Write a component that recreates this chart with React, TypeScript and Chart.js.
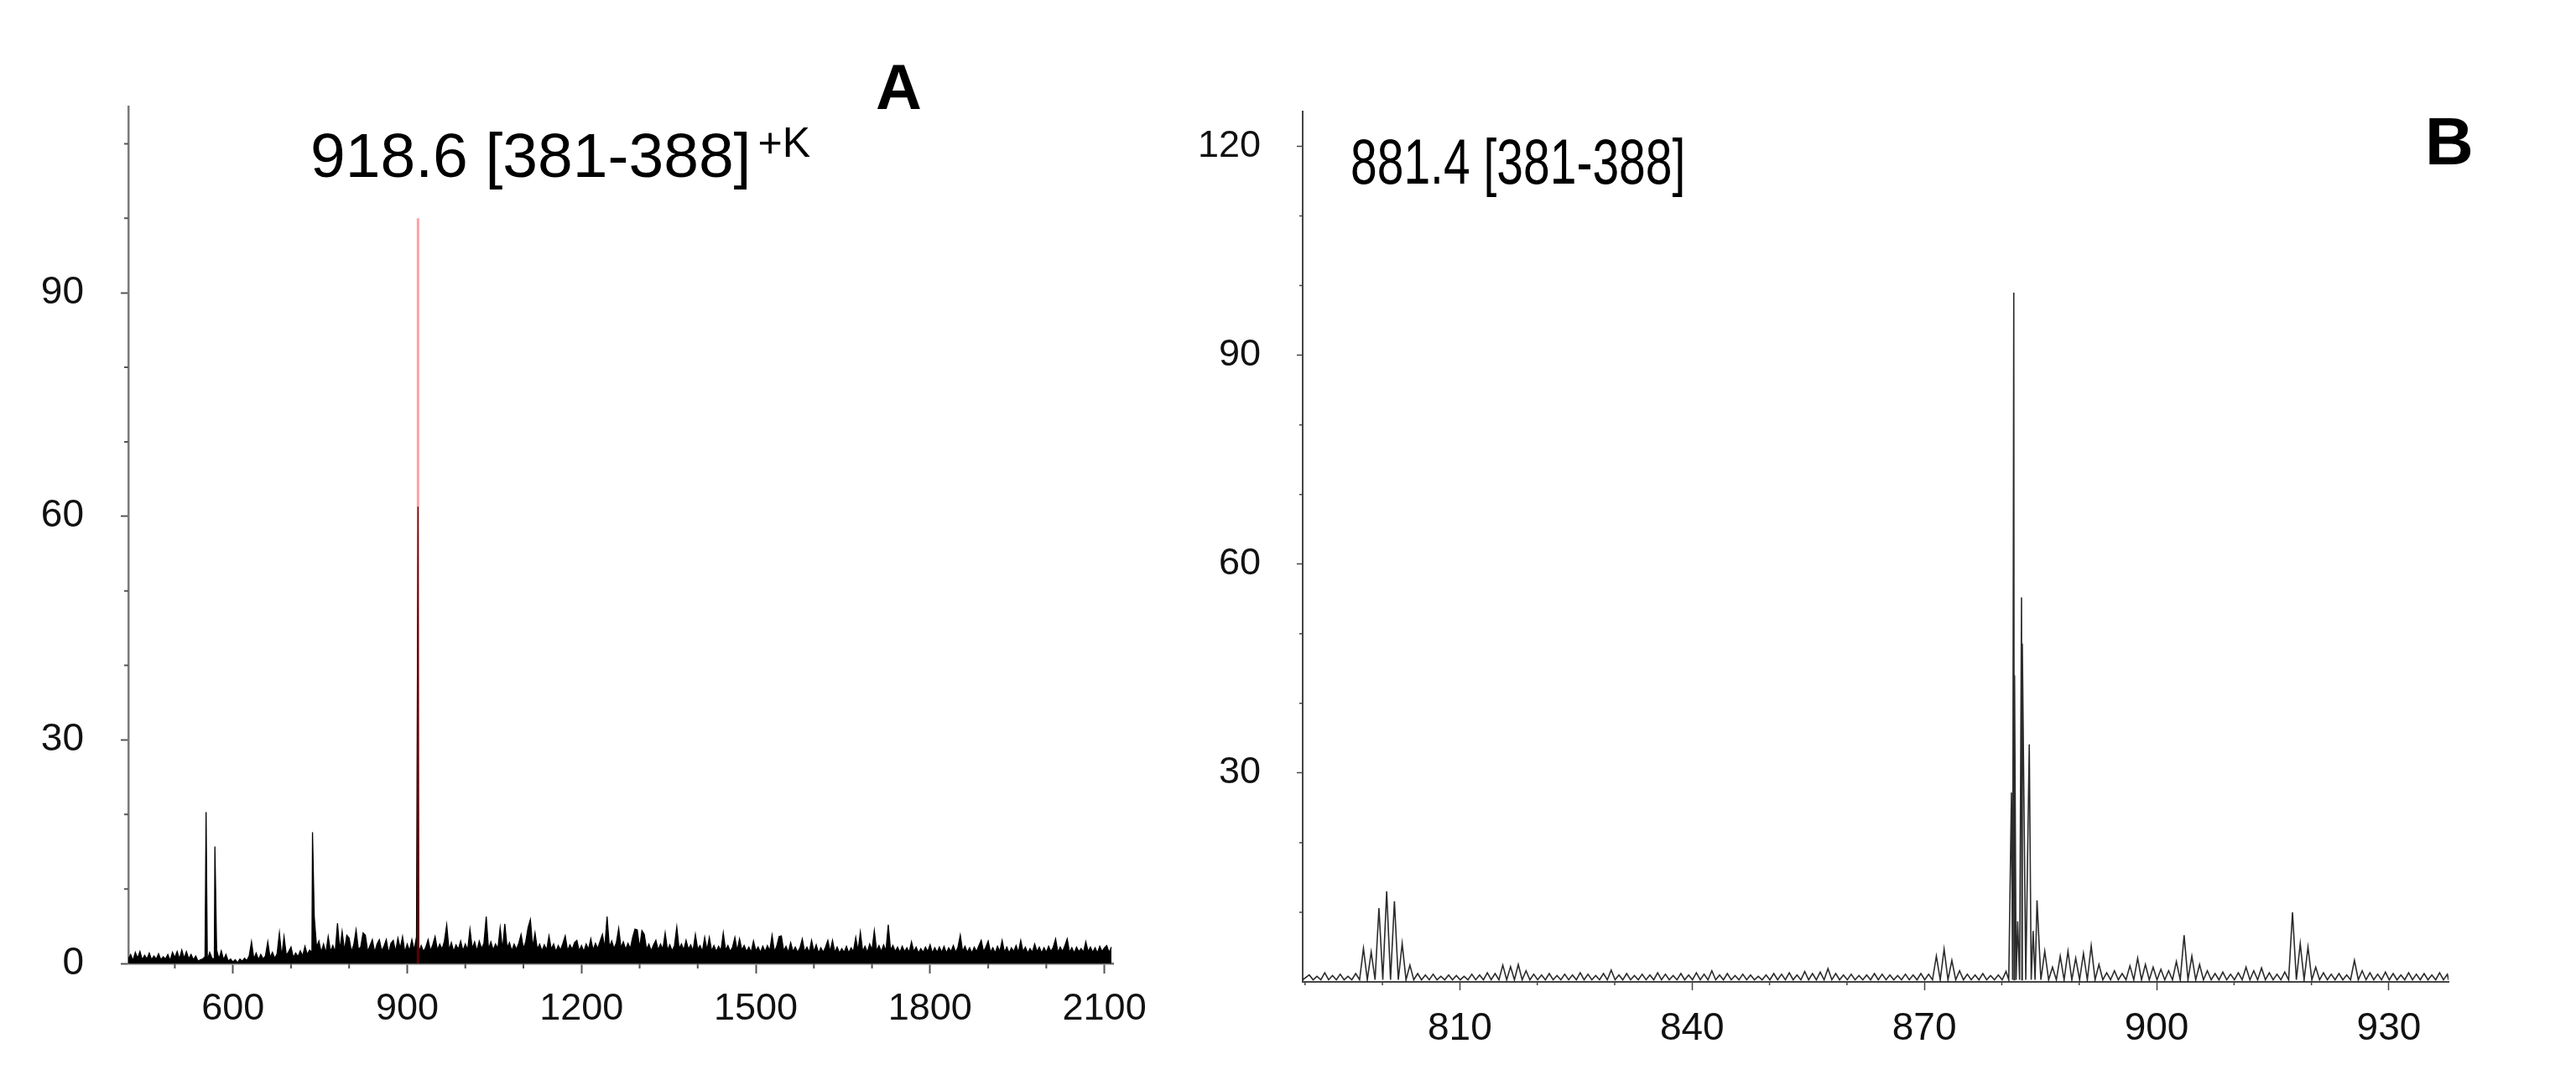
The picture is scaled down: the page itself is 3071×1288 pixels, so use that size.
import React, { useEffect, useRef } from "react";
import { Chart, registerables } from "chart.js";

Chart.register(...registerables);

const FONT = "'Liberation Sans', Arial, Helvetica, sans-serif";

// ---------------- Panel A : full-range spectrum ----------------
const A_TITLE = "918.6 [381-388]";
const A_TITLE_SUP = "+K";
const A_LETTER = "A";
const A_X_TICKS = [600, 900, 1200, 1500, 1800, 2100];
const A_X_MINOR = [500, 700, 800, 1000, 1100, 1300, 1400, 1600, 1700, 1900, 2000];
const A_Y_TICKS = [0, 30, 60, 90];
const A_Y_MINOR = [10, 20, 40, 50, 70, 80, 100, 110];
const A_X_MIN = 420;
const A_X_MAX = 2115;
const A_Y_MAX = 115;

// sampled profile trace: m/z grid start and spacing (Da)
const A_GRID_START = 420;
const A_GRID_STEP = 4;
const A_NOISE = [
  // 420 - 516
  0.6, 1.2, 0.4, 1.5, 0.7, 1.6, 0.5, 1.1, 0.6, 1.4, 0.5, 1.0, 0.6, 1.3, 0.5, 0.9, 0.6, 1.2, 0.4, 1.5, 0.8, 1.6, 0.6, 1.8, 0.7,
  // 520 - 616
  1.6, 0.6, 1.2, 0.5, 1.0, 0.3, 0.5, 0.6, 0.9, 0.4, 1.5, 0.7, 0.6, 1.8, 0.6, 1.7, 0.5, 1.2, 0.3, 0.6, 0.2, 0.5, 0.1, 0.6, 0.3,
  // 620 - 716
  0.7, 0.4, 1.0, 2.9, 0.6, 1.4, 0.5, 1.2, 0.6, 1.0, 2.9, 0.8, 1.5, 0.7, 1.3, 4.1, 0.9, 3.6, 1.1, 1.6, 2.2, 0.8, 1.4, 0.9, 1.7,
  // 720 - 816
  1.0, 2.3, 1.2, 1.8, 1.5, 6.3, 2.2, 3.0, 1.5, 2.6, 1.4, 3.6, 1.6, 2.4, 1.5, 5.4, 1.8, 4.3, 1.7, 3.8, 3.4, 1.6, 2.5, 4.5, 1.9,
  // 820 - 916
  2.2, 4.1, 3.8, 1.6, 2.4, 3.2, 1.5, 2.6, 3.2, 1.7, 2.3, 3.2, 1.4, 2.7, 3.1, 1.6, 3.4, 2.0, 3.6, 1.5, 2.6, 1.7, 3.2, 1.8, 3.6,
  // 920 - 1016
  1.5, 2.4, 1.6, 2.2, 3.2, 1.7, 2.5, 3.6, 1.8, 2.6, 1.9, 3.0, 5.2, 1.8, 2.8, 1.6, 2.5, 1.9, 3.0, 1.7, 2.6, 1.8, 4.6, 2.0, 2.9,
  // 1020 - 1116
  1.7, 3.0, 2.0, 2.7, 6.3, 1.9, 2.9, 1.8, 2.6, 2.0, 4.8, 1.8, 5.3, 2.1, 2.8, 1.7, 2.6, 1.9, 2.7, 3.9, 2.0, 2.9, 4.8, 5.9, 2.2,
  // 1120 - 1216
  4.1, 1.9, 2.6, 1.7, 2.5, 1.8, 3.7, 1.9, 2.6, 1.6, 2.4, 1.8, 2.7, 3.7, 1.7, 2.5, 1.9, 2.8, 3.1, 1.7, 2.4, 1.6, 2.6, 1.9, 3.3,
  // 1220 - 1316
  1.8, 2.7, 2.0, 3.0, 3.9, 2.1, 6.3, 2.2, 3.0, 2.0, 2.8, 4.7, 2.1, 2.9, 1.9, 2.7, 2.0, 3.5, 4.6, 4.5, 2.1, 4.4, 3.9, 1.9, 2.6,
  // 1320 - 1416
  1.7, 2.5, 3.1, 1.8, 2.6, 1.9, 4.1, 1.8, 2.5, 1.7, 2.4, 4.9, 2.0, 2.6, 1.8, 3.1, 1.9, 2.5, 1.7, 3.9, 1.9, 2.4, 1.6, 3.5, 1.8,
  // 1420 - 1516
  3.5, 1.7, 2.4, 1.6, 2.3, 1.7, 4.1, 1.8, 2.4, 1.6, 2.2, 3.5, 1.7, 3.3, 1.8, 2.4, 1.6, 2.2, 1.5, 3.0, 1.7, 2.2, 1.5, 2.3, 1.6,
  // 1520 - 1616
  2.4, 1.7, 3.8, 1.6, 2.3, 3.6, 3.7, 1.7, 2.3, 1.5, 2.8, 1.6, 2.2, 1.5, 2.1, 3.3, 1.6, 2.2, 1.5, 3.1, 1.6, 2.5, 1.4, 2.1, 1.5,
  // 1620 - 1716
  2.2, 3.1, 1.6, 3.1, 1.5, 2.2, 1.4, 2.0, 1.5, 2.3, 1.4, 2.1, 1.6, 3.5, 1.7, 4.2, 1.6, 2.3, 1.5, 2.6, 1.8, 4.4, 1.7, 2.4, 1.6,
  // 1720 - 1816
  2.5, 1.7, 5.2, 1.8, 2.4, 1.6, 2.2, 1.5, 2.3, 1.6, 2.1, 1.5, 2.9, 1.6, 2.2, 1.4, 2.0, 1.5, 2.2, 1.6, 2.5, 1.4, 2.1, 1.5, 2.2,
  // 1820 - 1916
  1.5, 2.3, 1.4, 2.1, 1.6, 2.4, 1.5, 2.2, 3.8, 1.6, 2.3, 1.5, 2.1, 1.4, 2.2, 1.6, 2.4, 3.1, 1.6, 2.2, 3.0, 1.5, 2.1, 1.4, 2.3,
  // 1920 - 2016
  1.6, 3.1, 1.5, 2.2, 1.4, 2.1, 1.6, 2.4, 1.5, 3.1, 1.6, 2.2, 1.4, 2.0, 1.5, 2.6, 1.6, 2.2, 1.4, 2.1, 1.5, 2.3, 1.6, 2.2, 3.3,
  // 2020 - 2112
  1.5, 2.2, 1.6, 2.4, 3.3, 1.5, 2.1, 1.4, 2.2, 1.6, 2.0, 1.5, 2.9, 1.6, 2.2, 1.5, 2.1, 1.4, 2.3, 1.6, 2.1, 2.4, 1.5, 2.2,
];
const A_PEAK_MZ = [553.8, 569.0, 737.0, 918.6];
const A_PEAK_INT = [20.3, 15.7, 17.6, 61.3];
const A_MARK_MZ = [918.6];
const A_MARK_INT = [100];

// ---------------- Panel B : zoomed spectrum ----------------
const B_TITLE = "881.4 [381-388]";
const B_LETTER = "B";
const B_X_TICKS = [810, 840, 870, 900, 930];
const B_X_MINOR = [790, 800, 820, 830, 850, 860, 880, 890, 910, 920];
const B_Y_TICKS = [30, 60, 90, 120];
const B_Y_MINOR = [10, 20, 40, 50, 70, 80, 100, 110];
const B_X_MIN = 789.7;
const B_X_MAX = 937.7;
const B_Y_MAX = 125;

// one centroid per nominal mass (790 ... 937), at nominal + mass defect
const B_FIRST_NOMINAL = 790;
const B_MASS_DEFECT = 0.55;
const B_BASELINE = 0.3;
const B_INT = [
  1.0, 0.8, 1.3, 0.9, 1.1, 0.8, 1.2, 4.8, 4.3, 10.6, // 790
  13.0, 11.6, 5.5, 2.4, 1.2, 1.0, 1.1, 0.8, 1.0, 0.9, // 800
  0.8, 1.1, 1.0, 1.3, 1.2, 2.4, 2.2, 2.5, 1.6, 1.1, // 810
  1.0, 1.2, 0.9, 1.1, 1.0, 1.3, 1.1, 0.9, 1.2, 1.7, // 820
  1.0, 1.2, 0.9, 1.1, 1.0, 1.3, 1.1, 0.9, 1.2, 1.0, // 830
  1.3, 1.1, 1.6, 1.0, 1.2, 0.9, 1.1, 1.0, 0.8, 1.0, // 840
  1.2, 1.1, 1.3, 1.0, 1.5, 1.2, 1.4, 1.9, 1.2, 1.0, // 850
  1.1, 0.9, 1.0, 1.2, 1.1, 1.0, 0.9, 1.1, 1.0, 1.2, // 860
  1.1, 3.7, 4.7, 3.1, 1.6, 1.1, 1.0, 1.2, 0.9, 1.0, // 870
  1.5, 99.0, 55.2, 34.1, 11.7, 4.4, 2.1, 3.7, 4.4, 3.4, // 880
  4.1, 5.2, 2.5, 1.3, 1.6, 1.2, 2.3, 3.4, 2.5, 2.1, // 890
  1.8, 1.6, 2.9, 6.7, 3.7, 2.5, 1.6, 1.2, 1.4, 1.1, // 900
  1.3, 2.1, 1.6, 2.0, 1.3, 1.1, 1.4, 10.0, 5.5, 5.0, // 910
  2.1, 1.3, 1.1, 1.2, 1.0, 3.1, 1.6, 1.3, 1.1, 1.4, // 920
  1.2, 1.0, 1.3, 1.1, 1.2, 1.0, 1.3, 1.1, // 930
];
const B_EXTRA_MZ = [881.25, 881.65, 882.05, 882.65, 884.05];
const B_EXTRA_INT = [27.2, 44.0, 8.7, 48.6, 7.3];

// ---------------- helpers ----------------
type Pt = { x: number; y: number };

function buildTraceA(): Pt[] {
  const pts: Pt[] = A_NOISE.map((v, i) => ({ x: A_GRID_START + i * A_GRID_STEP, y: v }));
  A_PEAK_MZ.forEach((m, i) => pts.push({ x: m, y: A_PEAK_INT[i] }));
  return pts.sort((a, b) => a.x - b.x);
}

function buildMarkA(): Pt[] {
  const pts: Pt[] = [];
  A_MARK_MZ.forEach((m, i) => {
    pts.push({ x: m, y: 0 });
    pts.push({ x: m, y: A_MARK_INT[i] });
  });
  return pts;
}

function buildTraceB(): Pt[] {
  const sticks: Pt[] = B_INT.map((v, i) => ({ x: B_FIRST_NOMINAL + i + B_MASS_DEFECT, y: v }));
  B_EXTRA_MZ.forEach((m, i) => sticks.push({ x: m, y: B_EXTRA_INT[i] }));
  sticks.sort((a, b) => a.x - b.x);
  const pts: Pt[] = [{ x: B_X_MIN, y: B_BASELINE }];
  sticks.forEach((s, i) => {
    pts.push(s);
    const next = sticks[i + 1];
    pts.push({ x: next ? (s.x + next.x) / 2 : B_X_MAX, y: B_BASELINE });
  });
  return pts;
}

const minorTicksPlugin = {
  id: "minorTicks",
  afterDraw(chart: any, _args: any, opts: any) {
    const ctx = chart.ctx;
    const xs = chart.scales.x;
    const ys = chart.scales.y;
    ctx.save();
    ctx.strokeStyle = opts.color;
    ctx.lineWidth = opts.width;
    ctx.beginPath();
    for (const v of opts.x as number[]) {
      const p = xs.getPixelForValue(v);
      ctx.moveTo(p, xs.top);
      ctx.lineTo(p, xs.top + opts.xLen);
    }
    for (const v of opts.y as number[]) {
      const p = ys.getPixelForValue(v);
      ctx.moveTo(ys.right - opts.yLen, p);
      ctx.lineTo(ys.right, p);
    }
    ctx.stroke();
    ctx.restore();
  },
};

function axisOptions(p: {
  min: number;
  max: number;
  ticks: number[];
  fit: number;
  horizontal: boolean;
  tickLen: number;
  pad: number;
  size: number;
  borderColor: string;
  borderWidth: number;
  tickColor: string;
  tickWidth: number;
}) {
  return {
    type: "linear",
    min: p.min,
    max: p.max,
    afterBuildTicks: (scale: any) => {
      scale.ticks = p.ticks.map((value) => ({ value }));
    },
    afterFit: (scale: any) => {
      if (p.horizontal) scale.height = p.fit;
      else scale.width = p.fit;
    },
    border: { display: true, color: p.borderColor, width: p.borderWidth },
    grid: {
      display: true,
      drawOnChartArea: false,
      drawTicks: true,
      tickLength: p.tickLen,
      tickColor: p.tickColor,
      tickWidth: p.tickWidth,
    },
    ticks: {
      autoSkip: false,
      maxRotation: 0,
      minRotation: 0,
      padding: p.pad,
      color: "#111",
      font: { family: FONT, size: p.size },
      callback: (v: number) => String(v),
    },
  };
}

function configA(): any {
  return {
    type: "line",
    data: {
      datasets: [
        {
          data: buildMarkA(),
          borderColor: "rgba(255,0,0,0.36)",
          borderWidth: 3,
          pointRadius: 0,
          fill: false,
          tension: 0,
        },
        {
          data: buildTraceA(),
          borderColor: "#000",
          backgroundColor: "#000",
          borderWidth: 1.3,
          pointRadius: 0,
          fill: "origin",
          tension: 0,
        },
      ],
    },
    options: {
      animation: false,
      responsive: false,
      maintainAspectRatio: false,
      devicePixelRatio: 1,
      parsing: false,
      layout: { padding: { top: 127, right: 73, left: 0, bottom: 0 } },
      plugins: {
        legend: { display: false },
        tooltip: { enabled: false },
        minorTicks: { x: A_X_MINOR, y: A_Y_MINOR, xLen: 6, yLen: 5, color: "#555", width: 2 },
      },
      scales: {
        x: axisOptions({
          min: A_X_MIN, max: A_X_MAX, ticks: A_X_TICKS, fit: 139, horizontal: true,
          tickLen: 12, pad: 16, size: 45, borderColor: "#6e6e6e", borderWidth: 2.5, tickColor: "#555", tickWidth: 2,
        }),
        y: axisOptions({
          min: 0, max: A_Y_MAX, ticks: A_Y_TICKS, fit: 153, horizontal: false,
          tickLen: 9, pad: 44, size: 46, borderColor: "#7a7a7a", borderWidth: 2.5, tickColor: "#555", tickWidth: 2,
        }),
      },
    },
    plugins: [minorTicksPlugin],
  };
}

function configB(): any {
  return {
    type: "line",
    data: {
      datasets: [
        {
          data: buildTraceB(),
          borderColor: "rgba(20,20,20,0.9)",
          borderWidth: 1.6,
          pointRadius: 0,
          fill: false,
          tension: 0,
        },
      ],
    },
    options: {
      animation: false,
      responsive: false,
      maintainAspectRatio: false,
      devicePixelRatio: 1,
      parsing: false,
      layout: { padding: { top: 133, right: 152, left: 0, bottom: 0 } },
      plugins: {
        legend: { display: false },
        tooltip: { enabled: false },
        minorTicks: { x: B_X_MINOR, y: B_Y_MINOR, xLen: 4, yLen: 4, color: "#444", width: 1.5 },
      },
      scales: {
        x: axisOptions({
          min: B_X_MIN, max: B_X_MAX, ticks: B_X_TICKS, fit: 117, horizontal: true,
          tickLen: 10, pad: 19, size: 46, borderColor: "#444", borderWidth: 2, tickColor: "#444", tickWidth: 1.5,
        }),
        y: axisOptions({
          min: 0, max: B_Y_MAX, ticks: B_Y_TICKS, fit: 153, horizontal: false,
          tickLen: 7, pad: 43, size: 45, borderColor: "#444", borderWidth: 2, tickColor: "#444", tickWidth: 1.5,
        }),
      },
    },
    plugins: [minorTicksPlugin],
  };
}

function SpectrumCanvas(props: { left: number; width: number; height: number; build: () => any }) {
  const ref = useRef<HTMLCanvasElement>(null);
  useEffect(() => {
    const chart = new Chart(ref.current as HTMLCanvasElement, props.build());
    return () => chart.destroy();
  }, []);
  return (
    <canvas
      ref={ref}
      width={props.width}
      height={props.height}
      style={{ position: "absolute", left: props.left, top: 0, width: props.width, height: props.height }}
    />
  );
}

const textBase: React.CSSProperties = {
  position: "absolute",
  fontFamily: FONT,
  color: "#000",
  whiteSpace: "nowrap",
  margin: 0,
};

export default function App() {
  return (
    <div
      style={{
        position: "absolute",
        left: 0,
        top: 0,
        width: 3071,
        height: 1288,
        background: "#fff",
        overflow: "hidden",
      }}
    >
      <SpectrumCanvas left={0} width={1400} height={1288} build={configA} />
      <SpectrumCanvas left={1400} width={1671} height={1288} build={configB} />
      <div style={{ ...textBase, left: 370, top: 148, fontSize: 75, lineHeight: "75px" }}>
        {A_TITLE}
        <span style={{ fontSize: 50, position: "relative", top: -24, marginLeft: 8 }}>{A_TITLE_SUP}</span>
      </div>
      <div
        style={{
          ...textBase,
          left: 1610,
          top: 155,
          fontSize: 76,
          lineHeight: "76px",
          transform: "scaleX(0.75)",
          transformOrigin: "left top",
        }}
      >
        {B_TITLE}
      </div>
      <div style={{ ...textBase, left: 1044, top: 66, fontSize: 76, lineHeight: "76px", fontWeight: 700 }}>
        {A_LETTER}
      </div>
      <div style={{ ...textBase, left: 2891, top: 129, fontSize: 80, lineHeight: "80px", fontWeight: 700 }}>
        {B_LETTER}
      </div>
    </div>
  );
}
